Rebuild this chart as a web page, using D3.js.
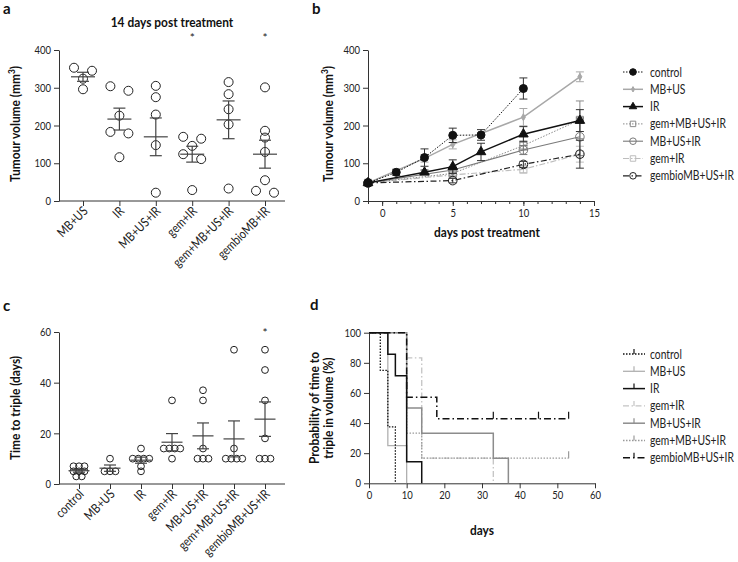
<!DOCTYPE html>
<html><head><meta charset="utf-8">
<script src="https://cdn.jsdelivr.net/npm/d3@7"></script>
<style>
body{margin:0;background:#fff;}
svg{display:block;}
</style></head>
<body>
<svg id="chart" width="738" height="562"></svg>
<script>
// ---------- DATA ----------
// Panel a: tumour volume at 14 days post treatment
const aCats = ["MB+US","IR","MB+US+IR","gem+IR","gem+MB+US+IR","gembioMB+IR"];
const aPoints = [[353,345,324,296],[304,292,226,183,179,116],[305,275,229,148,22],[170,165,146,124,111,29],[315,283,243,203,33],[301,186,168,130,55,27,22]];
const aMean = [329,217,170,124,215,124];
const aSem = [12,29,50,21,50,37];
const aStars = ["gem+IR","gembioMB+IR"];
const aTicks = [0,100,200,300,400];

// Panel b: growth curves
const bSeries = ["control","MB+US","IR","gem+MB+US+IR","MB+US+IR","gem+IR","gembioMB+US+IR"];
const bDays = [[-1,1,3,5,7,10],[-1,3,5,10,14],[-1,3,5,7,10,14],[-1,5,10,14],[-1,5,10,14],[-1,5,10,14],[-1,5,10,14]];
const bMean = [[48,76,115,174,175,298],[48,113,150,222,329],[48,76,91,130,177,213],[48,73,147,215],[48,82,135,170],[48,69,84,124],[48,54,97,124]];
const bSem = [[3,8,23,19,14,28],[3,10,12,23,13],[3,6,18,23,20,29],[3,7,12,50],[3,8,12,50],[3,5,10,21],[3,6,8,37]];
const bXTicks = [0,5,10,15];
const bYTicks = [0,100,200,300,400];

// Panel c: time to triple
const cCats = ["control","MB+US","IR","gem+IR","MB+US+IR","gem+MB+US+IR","gembioMB+US+IR"];
const cPoints = [[7,7,7,5,5,5,3,3],[10,5,5,5],[14,10,10,10,10,7,5],[33,14,14,14,14,10],[37,33,14,10,10,10],[53,14,10,10,10,10],[53,45,33,18,10,10,10]];
const cMean = [5.25,6.25,9.4,16.5,19,17.8,25.6];
const cSem = [0.6,1.25,1.2,3.4,5.1,7.1,6.8];
const cStars = ["gembioMB+US+IR"];
const cTicks = [0,20,40,60];

// Panel d: Kaplan-Meier
const dSeries = ["control","MB+US","IR","gem+IR","MB+US+IR","gem+MB+US+IR","gembioMB+US+IR"];
const dTimes = [[0,3,5,7],[0,5,10],[0,5,7,10,14],[0,10,14,33],[0,10,14,33,37],[0,10,14,53],[0,10,18,53]];
const dSurv = [[100,75,37.5,0],[100,25,0],[100,85.7,71.4,14.3,0],[100,83.3,16.7,0],[100,50,33.3,16.7,0],[100,33.3,16.7,16.7],[100,57.1,42.9,42.9]];
const dCensor = [[],[],[],[],[],[53],[33,45,53]];
const dXTicks = [0,10,20,30,40,50,60];
const dYTicks = [0,20,40,60,80,100];

// ---------- STYLE ----------
const FONT = 'Lato,"Open Sans",sans-serif';
const AX = "#333";
const svg = d3.select("#chart").style("font-family", FONT);

function measure(str, size, bold) {
  const t = svg.append("text").attr("font-family", FONT).attr("font-size", size)
    .attr("font-weight", bold ? "bold" : "normal").text(str);
  const w = t.node().getComputedTextLength();
  t.remove();
  return w;
}
const clamp = v => Math.max(0.7, Math.min(1.3, v));
const SXR = clamp(84 / measure("gembioMB+US+IR", 12.5, false)); // regular text width factor
const SXB = clamp(106 / measure("days post treatment", 13, true)); // bold text width factor

function txt(g, x, y, s, o={}) {
  const sx = o.sx !== undefined ? o.sx : (o.bold ? SXB : SXR);
  const t = g.append("text").attr("x", 0).attr("y", 0).text(s)
    .attr("transform", `translate(${x},${y})` + (o.rotate!==undefined ? ` rotate(${o.rotate})` : "") + ` scale(${sx},1)`)
    .attr("font-size", o.size||12.5).attr("fill", o.fill||"#222").attr("font-family", FONT)
    .attr("text-anchor", o.anchor||"start").attr("font-weight", o.bold?"bold":"normal");
  return t;
}
function styleTicks(g, left) {
  g.selectAll(".tick text").attr("font-size", 11.5).attr("fill", "#222").attr("font-family", FONT)
    .each(function() {
      const t = d3.select(this);
      if (left) t.attr("x", (+t.attr("x")) / SXR);
      t.attr("transform", `scale(${SXR},1)`);
    });
}

function yAxis(x0, yScale, ticks) {
  const g = svg.append("g").attr("transform", `translate(${x0},0)`);
  g.call(d3.axisLeft(yScale).tickValues(ticks).tickSize(5).tickSizeOuter(0).tickPadding(3));
  g.select(".domain").attr("stroke", AX);
  g.selectAll(".tick line").attr("stroke", AX);
  styleTicks(g, true);
  return g;
}

function swarm(vals, yS, thr, sp) {
  const s = vals.map((v,i)=>({v,i})).sort((a,b)=>b.v-a.v);
  const clusters = [];
  s.forEach(p => {
    const last = clusters[clusters.length-1];
    if (last && Math.abs(yS(last[last.length-1].v) - yS(p.v)) < thr) last.push(p);
    else clusters.push([p]);
  });
  const out = [];
  clusters.forEach(c => c.forEach((p,j) => out.push({v:p.v, off:(j-(c.length-1)/2)*sp})));
  return out;
}

function dotPanel(cats, pts, means, sems, stars, yTicks, yDom, yRange, xRange, axisX, opt) {
  const y = d3.scaleLinear().domain(yDom).range(yRange);
  const x = d3.scalePoint().domain(cats).range(xRange);
  const y0 = yRange[0];
  svg.append("line").attr("x1", axisX[0]).attr("x2", axisX[1]).attr("y1", y0).attr("y2", y0).attr("stroke", AX);
  const gx = svg.append("g").attr("transform", `translate(0,${y0})`);
  gx.call(d3.axisBottom(x).tickSize(5).tickSizeOuter(0));
  gx.select(".domain").remove();
  gx.selectAll(".tick line").attr("stroke", AX);
  gx.selectAll(".tick text").attr("font-size", opt.labSize).attr("fill", "#222").attr("font-family", FONT)
    .attr("text-anchor", "end").attr("dy", 0).attr("y", 0).attr("x", 0)
    .attr("transform", `translate(5,11) rotate(-45) scale(${SXR},1)`);
  yAxis(axisX[0], y, yTicks);
  cats.forEach((c, i) => {
    const cx = x(c);
    swarm(pts[i], y, opt.thr, opt.sp).forEach(p => {
      svg.append("circle").attr("cx", cx + p.off).attr("cy", y(p.v)).attr("r", opt.r)
        .attr("fill", "none").attr("stroke", "#222").attr("stroke-width", 1);
    });
    const m = means[i], e = sems[i];
    const g = svg.append("g").attr("stroke", "#444").attr("stroke-width", 1.2);
    g.append("line").attr("x1", cx-opt.mw/2).attr("x2", cx+opt.mw/2).attr("y1", y(m)).attr("y2", y(m));
    g.append("line").attr("x1", cx).attr("x2", cx).attr("y1", y(m-e)).attr("y2", y(m+e));
    [m-e, m+e].forEach(v => g.append("line").attr("x1", cx-opt.cw/2).attr("x2", cx+opt.cw/2).attr("y1", y(v)).attr("y2", y(v)));
  });
  stars.forEach(s => txt(svg, x(s), opt.starY, "*", {anchor:"middle", size:12, sx:1}));
}

function volLabel(x, y) {
  const t = txt(svg, x, y, "Tumour volume (mm", {bold:true, size:13, anchor:"middle", rotate:-90, fill:"#111"});
  t.append("tspan").text("3").attr("baseline-shift", "super").attr("font-size", 9);
  t.append("tspan").text(")");
}

// ---------- PANEL a ----------
txt(svg, 3, 14, "a", {bold:true, size:15, fill:"#111", sx:1});
txt(svg, 172, 27, "14 days post treatment", {bold:true, size:13, anchor:"middle", fill:"#111"});
dotPanel(aCats, aPoints, aMean, aSem, aStars, aTicks, [0,400], [201,50], [83,265], [59,285],
  {thr:6.5, sp:18, r:4.5, mw:24, cw:12, starY:42, labSize:13});
volLabel(20, 124);

// ---------- PANEL b ----------
txt(svg, 312, 14, "b", {bold:true, size:15, fill:"#111", sx:1});
{
  const x = d3.scaleLinear().domain([-1,15]).range([368,594]);
  const y = d3.scaleLinear().domain([0,400]).range([201,50]);
  yAxis(368, y, bYTicks);
  const gx = svg.append("g").attr("transform", "translate(0,201)");
  gx.call(d3.axisBottom(x).tickValues(d3.range(-1,16)).tickSize(3).tickSizeOuter(0).tickFormat(""));
  gx.select(".domain").attr("stroke", AX);
  gx.selectAll(".tick line").attr("stroke", AX);
  const gx2 = svg.append("g").attr("transform", "translate(0,201)");
  gx2.call(d3.axisBottom(x).tickValues(bXTicks).tickSize(5).tickSizeOuter(0).tickPadding(3));
  gx2.select(".domain").remove();
  gx2.selectAll(".tick line").attr("stroke", AX);
  styleTicks(gx2, false);
  txt(svg, 487, 237, "days post treatment", {bold:true, size:13, anchor:"middle", fill:"#111"});
  volLabel(333, 124);

  const st = {
    "control": {c:"#111", dash:"1.5,1.5", w:1, m:"circle", fill:"#111", sz:4},
    "MB+US": {c:"#a8a8a8", dash:null, w:1.5, m:"diamond", fill:"#a8a8a8", sz:14},
    "IR": {c:"#111", dash:null, w:1.5, m:"triangle", fill:"#111", sz:40},
    "gem+MB+US+IR": {c:"#8a8a8a", dash:"1.5,1.5", w:1, m:"square", fill:"none", sz:50},
    "MB+US+IR": {c:"#7a7a7a", dash:null, w:1.1, m:"circle", fill:"none", sz:4.3},
    "gem+IR": {c:"#bdbdbd", dash:"6,2,1.5,2", w:1.2, m:"square", fill:"none", sz:50},
    "gembioMB+US+IR": {c:"#222", dash:"6,2.5,1.5,2.5", w:1.2, m:"circle", fill:"none", sz:4.3}
  };
  function marker(g, s, cx, cy) {
    if (s.m === "circle") {
      g.append("circle").attr("cx", cx).attr("cy", cy).attr("r", s.sz)
        .attr("fill", s.fill).attr("stroke", s.c).attr("stroke-width", 1);
    } else {
      const type = {diamond:d3.symbolDiamond, triangle:d3.symbolTriangle, square:d3.symbolSquare}[s.m];
      g.append("path").attr("d", d3.symbol().type(type).size(s.sz)()).attr("transform", `translate(${cx},${cy})`)
        .attr("fill", s.fill).attr("stroke", s.c).attr("stroke-width", 1);
    }
  }
  const order = [5,3,4,1,6,2,0];
  order.forEach(i => {
    const s = st[bSeries[i]];
    const pts = bDays[i].map((d,j) => [d, bMean[i][j], bSem[i][j]]);
    const g = svg.append("g");
    pts.forEach(p => {
      if (p[2] > 4) {
        const eg = g.append("g").attr("stroke", s.c === "#111" || s.c === "#222" ? "#333" : s.c).attr("stroke-width", 1);
        eg.append("line").attr("x1", x(p[0])).attr("x2", x(p[0])).attr("y1", y(p[1]-p[2])).attr("y2", y(p[1]+p[2]));
        [p[1]-p[2], p[1]+p[2]].forEach(v => eg.append("line").attr("x1", x(p[0])-4).attr("x2", x(p[0])+4).attr("y1", y(v)).attr("y2", y(v)));
      }
    });
    g.append("path").attr("d", d3.line().x(p=>x(p[0])).y(p=>y(p[1]))(pts))
      .attr("fill", "none").attr("stroke", s.c).attr("stroke-width", s.w).attr("stroke-dasharray", s.dash);
    pts.forEach(p => marker(g, s, x(p[0]), y(p[1])));
  });
  bSeries.forEach((name, i) => {
    const s = st[name];
    const ly = 72 + i*17.3;
    const g = svg.append("g");
    g.append("line").attr("x1", 623).attr("x2", 643).attr("y1", ly).attr("y2", ly)
      .attr("stroke", s.c).attr("stroke-width", s.w).attr("stroke-dasharray", s.dash);
    marker(g, Object.assign({}, s, {sz: s.m==="circle" ? 3.3 : s.sz*0.6}), 633, ly);
    txt(g, 650, ly+4.5, name, {size:12.5, fill:"#222"});
  });
}

// ---------- PANEL c ----------
txt(svg, 3, 311, "c", {bold:true, size:15, fill:"#111", sx:1});
dotPanel(cCats, cPoints, cMean, cSem, cStars, cTicks, [0,60], [484,332], [79,265], [59,285],
  {thr:2, sp:5.5, r:3.4, mw:21, cw:12, starY:337, labSize:13});
txt(svg, 20, 408, "Time to triple (days)", {bold:true, size:13, anchor:"middle", rotate:-90, fill:"#111"});

// ---------- PANEL d ----------
txt(svg, 310, 310, "d", {bold:true, size:15, fill:"#111", sx:1});
{
  const x = d3.scaleLinear().domain([0,60]).range([369,595]);
  const y = d3.scaleLinear().domain([0,100]).range([483.3,332.7]);
  yAxis(369, y, dYTicks);
  const gx = svg.append("g").attr("transform", "translate(0,483.3)");
  gx.call(d3.axisBottom(x).tickValues(dXTicks).tickSize(5).tickSizeOuter(0).tickPadding(3));
  gx.select(".domain").attr("stroke", AX);
  gx.selectAll(".tick line").attr("stroke", AX);
  styleTicks(gx, false);
  txt(svg, 482, 535, "days", {bold:true, size:13, anchor:"middle", fill:"#111"});
  txt(svg, 319, 408, "Probability of time to", {bold:true, size:13, anchor:"middle", rotate:-90, fill:"#111"});
  txt(svg, 333, 408, "triple in volume (%)", {bold:true, size:13, anchor:"middle", rotate:-90, fill:"#111"});

  const st = {
    "control": {c:"#111", dash:"1.5,1.5", w:1.3},
    "MB+US": {c:"#b0b0b0", dash:null, w:1.3},
    "IR": {c:"#111", dash:null, w:1.5},
    "gem+IR": {c:"#c4c4c4", dash:"6,2.5,1.5,2.5", w:1.3},
    "MB+US+IR": {c:"#8c8c8c", dash:null, w:1.5},
    "gem+MB+US+IR": {c:"#9a9a9a", dash:"1.5,1.5", w:1.3},
    "gembioMB+US+IR": {c:"#111", dash:"7,3,1.5,3", w:1.5}
  };
  const order = [3,1,5,4,2,6,0];
  const step = d3.line().x(p=>x(p[0])).y(p=>y(p[1])).curve(d3.curveStepAfter);
  order.forEach(i => {
    const s = st[dSeries[i]];
    const pts = dTimes[i].map((t,j) => [t, dSurv[i][j]]);
    svg.append("path").attr("d", step(pts)).attr("fill", "none").attr("stroke", s.c)
      .attr("stroke-width", s.w).attr("stroke-dasharray", s.dash);
    dCensor[i].forEach(t => {
      let sv = 100;
      dTimes[i].forEach((tt,j) => { if (tt <= t) sv = dSurv[i][j]; });
      svg.append("line").attr("x1", x(t)).attr("x2", x(t)).attr("y1", y(sv)).attr("y2", y(sv)-7)
        .attr("stroke", s.c).attr("stroke-width", 1.2);
    });
  });
  dSeries.forEach((name, i) => {
    const s = st[name];
    const ly = 354 + i*17.3;
    const g = svg.append("g");
    g.append("line").attr("x1", 623).attr("x2", 645).attr("y1", ly).attr("y2", ly)
      .attr("stroke", s.c).attr("stroke-width", s.w).attr("stroke-dasharray", s.dash);
    g.append("line").attr("x1", 634).attr("x2", 634).attr("y1", ly).attr("y2", ly-5)
      .attr("stroke", s.c).attr("stroke-width", 1.2);
    txt(g, 650, ly+4.5, name, {size:12.5, fill:"#222"});
  });
}
</script>
</body></html>
